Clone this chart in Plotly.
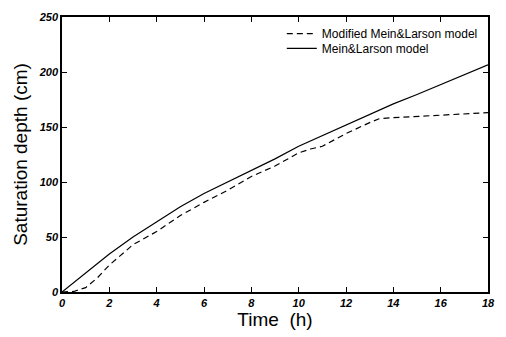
import plotly.graph_objects as go

# Data
time_solid = [0, 1, 2, 3, 4, 5, 6, 7, 8, 9, 10, 11, 12, 13, 14, 15, 16, 17, 18]
depth_solid = [0, 17, 34.5, 50, 64, 77.5, 89.5, 100, 110.5, 121, 132.5, 142, 151.5, 161.5, 171, 179.5, 188.5, 197.5, 206.5]

time_mod = [0, 0.5, 1, 1.5, 2, 2.5, 3, 4, 5, 6, 7, 8, 9, 10, 10.5, 11, 12, 13, 13.4, 14, 15, 16, 17, 18]
depth_mod = [0, 0.5, 4, 13, 24.5, 34, 43, 55, 69.5, 81.5, 92.5, 105, 114.5, 126.5, 130, 132.5, 144, 154, 157.5, 158.5, 159.5, 161, 162, 163]

x_ticks = [0, 2, 4, 6, 8, 10, 12, 14, 16, 18]
y_ticks = [0, 50, 100, 150, 200, 250]

FONT = "Liberation Sans, Arial, Helvetica"

fig = go.Figure()
fig.add_trace(go.Scatter(x=time_mod, y=depth_mod, mode="lines",
                         name="Modified Mein&Larson model", legend="legend",
                         line=dict(color="black", width=1.2, dash="6px,4px")))
fig.add_trace(go.Scatter(x=time_solid, y=depth_solid, mode="lines",
                         name="Mein&Larson model", legend="legend2",
                         line=dict(color="black", width=1.2)))

tickfont = dict(family=FONT, size=11, color="black", weight="bold", style="italic")
axis_common = dict(showline=True, linecolor="black", linewidth=1.5, mirror="allticks",
                   ticks="inside", ticklen=5, tickcolor="black", tickwidth=1.2,
                   showgrid=False, zeroline=False, tickfont=tickfont)

legend_common = dict(xanchor="left", yanchor="middle",
                     font=dict(family=FONT, size=12, color="black"),
                     bgcolor="rgba(0,0,0,0)", itemwidth=30)

fig.update_layout(
    width=506, height=337,
    margin=dict(l=62, r=14, t=11, b=45),
    paper_bgcolor="white", plot_bgcolor="white",
    showlegend=True,
    legend=dict(x=0.516, y=0.9395, **legend_common),
    legend2=dict(x=0.516, y=0.886, **legend_common),
    xaxis=dict(range=[0, 18], tickvals=x_ticks,
               title=dict(text="Time  (h)", font=dict(family=FONT, size=19, color="black", weight="normal"), standoff=4),
               **axis_common),
    yaxis=dict(range=[0, 250], tickvals=y_ticks,
               title=dict(text="Saturation depth (cm)", font=dict(family=FONT, size=19, color="black", weight="normal"), standoff=6),
               **axis_common),
)

fig.write_html("out.html", config={"displayModeBar": False},
               post_script="document.body.style.margin='0';")
